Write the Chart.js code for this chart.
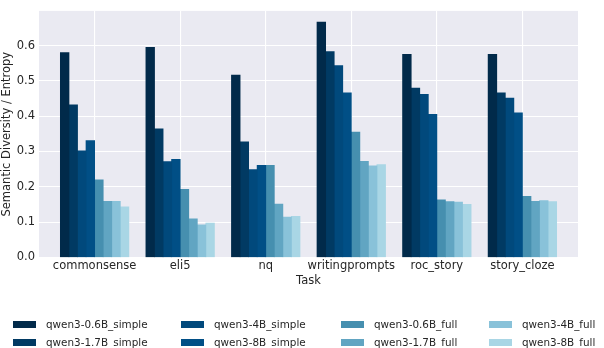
<!DOCTYPE html>
<html>
<head>
<meta charset="utf-8">
<script src="https://cdn.jsdelivr.net/npm/chart.js@4"></script>
<style>
  html, body { margin: 0; padding: 0; background: #fff; }
  #wrap { position: relative; width: 604px; height: 348px; }
  #legend { position: absolute; left: 0; top: 0; width: 604px; height: 348px; pointer-events: none;
    font-family: "DejaVu Sans", sans-serif; font-size: 10.4px; color: #262626; }
  .item { position: absolute; height: 14px; line-height: 14px; white-space: nowrap; }
  .sw { position: absolute; left: 0; top: 3.5px; width: 23px; height: 7px; }
  .lb { position: absolute; left: 33px; top: 0; }
</style>
</head>
<body>
<div id="wrap">
  <canvas id="chart" width="604" height="348"></canvas>
  <div id="legend"></div>
</div>
<script>
// === datos ===
const tasks = ["commonsense", "eli5", "nq", "writingprompts", "roc_story", "story_cloze"];
const seriesNames = [
  "qwen3-0.6B_simple", "qwen3-1.7B_simple", "qwen3-4B_simple", "qwen3-8B_simple",
  "qwen3-0.6B_full", "qwen3-1.7B_full", "qwen3-4B_full", "qwen3-8B_full"
];
const qwen06Simple = [0.580, 0.595, 0.516, 0.666, 0.575, 0.575];
const qwen17Simple = [0.432, 0.364, 0.327, 0.583, 0.479, 0.466];
const qwen4Simple  = [0.302, 0.271, 0.249, 0.543, 0.462, 0.451];
const qwen8Simple  = [0.331, 0.278, 0.261, 0.466, 0.405, 0.409];
const qwen06Full   = [0.220, 0.193, 0.261, 0.355, 0.163, 0.173];
const qwen17Full   = [0.159, 0.109, 0.151, 0.272, 0.158, 0.159];
const qwen4Full    = [0.159, 0.092, 0.114, 0.259, 0.157, 0.161];
const qwen8Full    = [0.143, 0.097, 0.116, 0.263, 0.150, 0.158];
const yTicks = [0, 0.1, 0.2, 0.3, 0.4, 0.5, 0.6];

const seriesValues = [qwen06Simple, qwen17Simple, qwen4Simple, qwen8Simple,
                      qwen06Full, qwen17Full, qwen4Full, qwen8Full];
const colors = ["#012A4A", "#013A63", "#01497C", "#014F86",
                "#468FAF", "#61A5C2", "#89C2D9", "#A9D6E5"];

const font = { family: "'DejaVu Sans', sans-serif", size: 11.5 };
const textColor = "#262626";

// fondo gris del área del gráfico (estilo seaborn darkgrid)
const plotBg = {
  id: "plotBg",
  beforeDraw(chart) {
    const { ctx, chartArea: a } = chart;
    ctx.save();
    ctx.fillStyle = "#EAEAF2";
    ctx.fillRect(a.left, a.top, a.right - a.left, a.bottom - a.top);
    ctx.restore();
  },
};

new Chart(document.getElementById("chart"), {
  type: "bar",
  data: {
    datasets: seriesNames.map((name, k) => ({
      label: name,
      data: seriesValues[k].map((v, i) => ({ x: i, y: v })),
      backgroundColor: colors[k],
      borderWidth: 0,
      inflateAmount: 0.4,
      categoryPercentage: 0.8,
      barPercentage: 1.0,
    })),
  },
  options: {
    responsive: false,
    animation: false,
    layout: { padding: { top: 2, right: 26, left: 0, bottom: 60 } },
    plugins: { legend: { display: false }, tooltip: { enabled: false } },
    scales: {
      x: {
        type: "linear",
        offset: false,
        min: -0.65,
        max: 5.65,
        afterBuildTicks: (s) => { s.ticks = tasks.map((t, i) => ({ value: i })); },
        afterFit: (s) => { s.height = 30.5; },
        ticks: {
          callback: (v) => tasks[v],
          font, color: textColor, padding: 2, maxRotation: 0, autoSkip: false,
        },
        grid: { color: "#ffffff", lineWidth: 1.1, drawTicks: false, offset: false },
        border: { display: false },
        title: { display: true, text: "Task", font, color: textColor, padding: 0 },
      },
      y: {
        min: 0,
        max: 0.698,
        afterBuildTicks: (s) => { s.ticks = yTicks.map((v) => ({ value: v })); },
        afterFit: (s) => { s.width = 39; },
        ticks: {
          callback: (v) => v.toFixed(1),
          font, color: textColor, padding: 4,
        },
        grid: { color: "#ffffff", lineWidth: 1.1, drawTicks: false },
        border: { display: false },
        title: { display: true, text: "Semantic Diversity / Entropy", font, color: textColor, padding: 0 },
      },
    },
  },
  plugins: [plotBg],
});

// === leyenda (4 columnas, orden por columnas como matplotlib) ===
const legendCols = [13, 181, 341, 489];
const legendRows = [317.3, 335.3];
const legendEl = document.getElementById("legend");
seriesNames.forEach((name, k) => {
  const item = document.createElement("div");
  item.className = "item";
  item.style.left = legendCols[Math.floor(k / 2)] + "px";
  item.style.top = legendRows[k % 2] + "px";
  item.innerHTML = '<span class="sw" style="background:' + colors[k] + '"></span><span class="lb">' + name + "</span>";
  legendEl.appendChild(item);
});
</script>
</body>
</html>
